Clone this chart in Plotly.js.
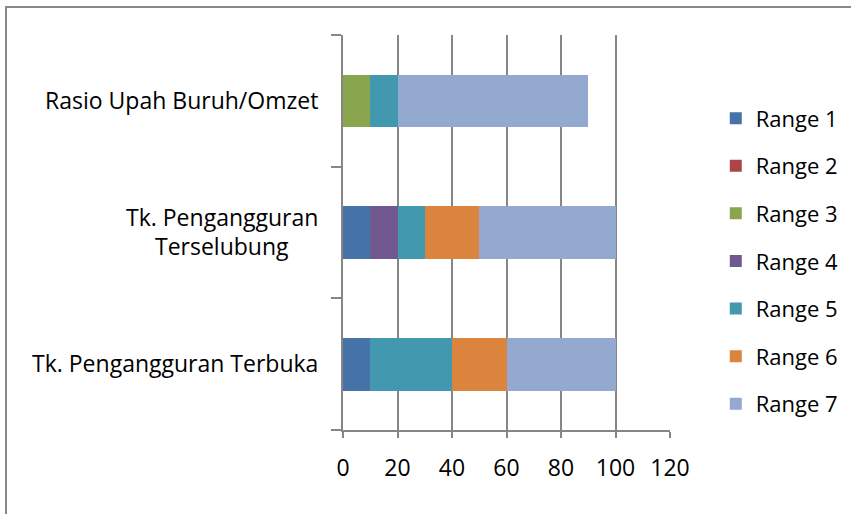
<!DOCTYPE html>
<html>
<head>
<meta charset="utf-8">
<script src="https://cdn.plot.ly/plotly-3.0.1.min.js"></script>
<style>
html,body{margin:0;padding:0;background:#fff;}
#wrap{position:relative;width:851px;height:514px;}
#chart{width:851px;height:514px;}
#frame{position:absolute;left:5px;top:6px;width:860px;height:520px;border-left:2px solid #888;border-top:2px solid #888;pointer-events:none;}
</style>
</head>
<body>
<div id="wrap"><div id="chart"></div><div id="frame"></div></div>
<script>
const categories = ["Tk. Pengangguran Terbuka", "Tk. Pengangguran<br>Terselubung&nbsp;&nbsp;&nbsp;&nbsp;&nbsp;", "Rasio Upah Buruh/Omzet"];
const seriesNames = ["Range 1", "Range 2", "Range 3", "Range 4", "Range 5", "Range 6", "Range 7"];
const range1 = [10, 10, 0];
const range2 = [0, 0, 0];
const range3 = [0, 0, 10];
const range4 = [0, 10, 0];
const range5 = [30, 10, 10];
const range6 = [20, 20, 0];
const range7 = [40, 50, 70];
const xTicks = [0, 20, 40, 60, 80, 100, 120];

const colors = ["#4572A7", "#AA4643", "#89A54E", "#71588F", "#4198AF", "#DB843D", "#93A9CF"];
const values = [range1, range2, range3, range4, range5, range6, range7];
const FONT = "Open Sans, sans-serif";
const FS = 23;

const traces = values.map((v, i) => ({
  type: "bar",
  orientation: "h",
  name: seriesNames[i],
  y: categories,
  x: v,
  marker: {color: colors[i], line: {width: 0}},
  legendgroup: "g" + i,
  hoverinfo: "x+name"
}));

const layout = {
  width: 851, height: 514,
  margin: {l: 343, r: 181, t: 35, b: 84, autoexpand: false},
  paper_bgcolor: "#fff", plot_bgcolor: "#fff",
  barmode: "stack",
  bargap: 0.6,
  showlegend: true,
  font: {family: FONT, size: FS, color: "#000"},
  xaxis: {
    range: [0, 120], tickvals: xTicks, ticktext: xTicks.map(String),
    showgrid: true, gridcolor: "#868686", gridwidth: 2,
    showline: true, linecolor: "#868686", linewidth: 2,
    ticks: "outside", ticklen: 6, tickcolor: "#868686", tickwidth: 2,
    ticklabelstandoff: 10,
    zeroline: false, fixedrange: true,
    tickfont: {family: FONT, size: FS, color: "#000"}
  },
  yaxis: {
    type: "category",
    categoryorder: "array", categoryarray: categories,
    showline: true, linecolor: "#868686", linewidth: 2,
    ticks: "outside", ticklen: 10, tickcolor: "#868686", tickwidth: 2,
    tickson: "boundaries",
    ticklabelstandoff: 18,
    showgrid: false, zeroline: false, fixedrange: true,
    tickfont: {family: FONT, size: FS, color: "#000"}
  },
  legend: {
    x: 1.14, xanchor: "left", xref: "paper",
    y: 0.427, yanchor: "middle",
    traceorder: "grouped",
    tracegroupgap: 16,
    font: {family: FONT, size: 22, color: "#000"},
    bgcolor: "rgba(0,0,0,0)",
    itemwidth: 30
  }
};

Plotly.newPlot("chart", traces, layout, {displayModeBar: false, staticPlot: true});
</script>
</body>
</html>
